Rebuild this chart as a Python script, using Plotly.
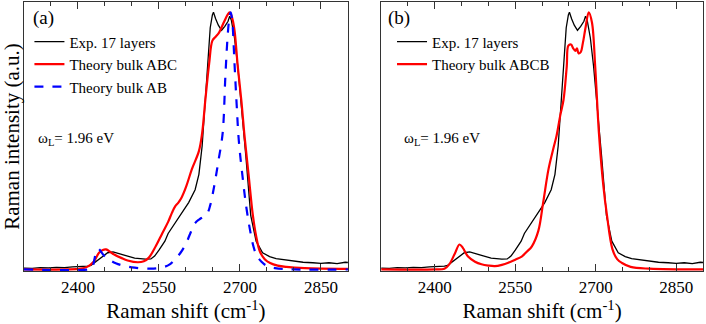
import plotly.graph_objects as go

# ---- data (normalised intensity) ----
exp_x = [2300, 2315, 2330, 2345, 2360, 2375, 2390, 2400, 2410, 2418, 2424, 2430, 2436,
         2445, 2455, 2465, 2475, 2485, 2495, 2505, 2515, 2525, 2535, 2542, 2550, 2561,
         2567, 2575, 2583, 2592, 2605, 2617, 2624, 2630, 2636, 2641, 2645, 2649, 2651,
         2655, 2660, 2666, 2672, 2678, 2681, 2684, 2690, 2696, 2702, 2711, 2720, 2730,
         2742, 2755, 2767, 2786, 2800, 2817, 2835, 2850, 2865, 2880, 2895, 2900]
exp_y = [0.005, 0.004, 0.007, 0.006, 0.008, 0.007, 0.010, 0.011, 0.010, 0.013, 0.016, 0.025,
         0.036, 0.048, 0.065, 0.068, 0.062, 0.055, 0.048, 0.044, 0.042, 0.040, 0.041, 0.052,
         0.075, 0.110, 0.140, 0.165, 0.190, 0.220, 0.260, 0.310, 0.370, 0.480, 0.660, 0.820,
         0.940, 0.990, 1.000, 0.975, 0.950, 0.930, 0.945, 0.965, 0.985, 0.970, 0.900, 0.790,
         0.660, 0.440, 0.210, 0.110, 0.065, 0.050, 0.042, 0.036, 0.032, 0.028, 0.026, 0.024,
         0.026, 0.023, 0.028, 0.027]

abc_x = [2300, 2380, 2405, 2417, 2429, 2439, 2446, 2452, 2460, 2467, 2480, 2492, 2511, 2522,
         2531, 2544, 2556, 2567, 2574, 2580, 2586, 2592, 2600, 2611, 2624, 2630, 2636, 2643,
         2649, 2655, 2661, 2670, 2677, 2681, 2686, 2690, 2696, 2703, 2708, 2716, 2724, 2730,
         2737, 2746, 2756, 2770, 2786, 2820, 2900]
abc_y = [0.0, 0.0, 0.003, 0.010, 0.030, 0.065, 0.076, 0.078, 0.068, 0.058, 0.045, 0.035, 0.028,
         0.032, 0.045, 0.090, 0.140, 0.185, 0.220, 0.245, 0.260, 0.280, 0.320, 0.390, 0.460,
         0.530, 0.660, 0.800, 0.890, 0.905, 0.920, 0.960, 0.990, 1.000, 0.975, 0.930, 0.790,
         0.650, 0.530, 0.370, 0.210, 0.130, 0.070, 0.040, 0.025, 0.015, 0.010, 0.005, 0.002]

ab_x = [2300, 2420, 2426, 2430, 2434, 2438, 2443, 2450, 2460, 2470, 2485, 2505, 2530, 2545,
        2560, 2570, 2580, 2590, 2600, 2608, 2617, 2625, 2632, 2640, 2645, 2652, 2660, 2668,
        2673, 2677, 2680, 2683, 2686, 2690, 2694, 2698, 2706, 2712, 2719, 2725, 2731, 2740,
        2749, 2765, 2800, 2900]
ab_y = [0.0, 0.0, 0.005, 0.035, 0.070, 0.080, 0.068, 0.050, 0.035, 0.024, 0.014, 0.007, 0.003,
        0.004, 0.010, 0.020, 0.040, 0.065, 0.100, 0.140, 0.180, 0.195, 0.205, 0.220, 0.250,
        0.320, 0.420, 0.530, 0.750, 0.900, 0.970, 1.000, 0.960, 0.800, 0.640, 0.500, 0.340,
        0.240, 0.150, 0.090, 0.055, 0.030, 0.015, 0.005, 0.0, 0.0]

abcb_x = [2300, 2400, 2418, 2427, 2437, 2446, 2452, 2462, 2475, 2487, 2500, 2512, 2525, 2537,
          2550, 2562, 2572, 2581, 2593, 2602, 2612, 2621, 2627, 2634, 2640, 2646, 2649, 2654,
          2658, 2662, 2665, 2668, 2672, 2676, 2681, 2687, 2693, 2699, 2706, 2714, 2721, 2731,
          2740, 2749, 2765, 2800, 2900]
abcb_y = [0.0, 0.0, 0.003, 0.020, 0.060, 0.097, 0.085, 0.050, 0.030, 0.020, 0.015, 0.013, 0.018,
          0.026, 0.038, 0.050, 0.070, 0.090, 0.150, 0.260, 0.390, 0.470, 0.520, 0.600, 0.660,
          0.790, 0.870, 0.875, 0.860, 0.850, 0.860, 0.840, 0.845, 0.880, 0.940, 1.000, 0.960,
          0.790, 0.530, 0.330, 0.210, 0.080, 0.040, 0.025, 0.010, 0.003, 0.0]

SERIF = "Liberation Serif, Times New Roman, serif"
FRAME = "#333333"

fig = go.Figure()
fig.add_trace(go.Scatter(x=exp_x, y=exp_y, mode="lines", name="Exp. 17 layers",
                         line=dict(color="black", width=1.3), legend="legend"))
fig.add_trace(go.Scatter(x=abc_x, y=abc_y, mode="lines", name="Theory bulk ABC",
                         line=dict(color="#ff0000", width=2.2, shape="spline"), legend="legend"))
fig.add_trace(go.Scatter(x=ab_x, y=ab_y, mode="lines", name="Theory bulk AB",
                         line=dict(color="#0000ff", width=2.2, dash="dash", shape="spline"),
                         legend="legend"))
fig.add_trace(go.Scatter(x=exp_x, y=exp_y, mode="lines", name="Exp. 17 layers",
                         line=dict(color="black", width=1.3), xaxis="x2", yaxis="y2",
                         legend="legend2"))
fig.add_trace(go.Scatter(x=abcb_x, y=abcb_y, mode="lines", name="Theory bulk ABCB",
                         line=dict(color="#ff0000", width=2.2, shape="spline"),
                         xaxis="x2", yaxis="y2", legend="legend2"))

xax = dict(range=[2300, 2900], tick0=2400, dtick=150, ticks="inside", ticklen=7,
           tickwidth=1.2, tickcolor=FRAME, showline=True, linecolor=FRAME, linewidth=1.3,
           mirror="ticks", showgrid=False, zeroline=False, automargin=False,
           minor=dict(dtick=50, ticks="inside", ticklen=4, tickcolor=FRAME, showgrid=False),
           tickfont=dict(family=SERIF, size=17, color="black"),
           title=dict(text="Raman shift (cm<sup>-1</sup>)", standoff=0,
                      font=dict(family=SERIF, size=21, color="black")))
yax = dict(range=[-0.006, 1.04], showticklabels=False, ticks="", showline=True,
           linecolor=FRAME, linewidth=1.3, mirror=True, showgrid=False, zeroline=False,
           automargin=False)

legend_font = dict(family=SERIF, size=15, color="black")
fig.update_layout(
    width=706, height=324,
    margin=dict(l=24, r=3, t=2, b=53),
    paper_bgcolor="white", plot_bgcolor="white",
    xaxis=dict(xax, domain=[0, 0.477]),
    yaxis=dict(yax, title=dict(text="Raman intensity (a.u.)", standoff=0,
                               font=dict(family=SERIF, size=21, color="black"))),
    xaxis2=dict(xax, domain=[0.526, 1], anchor="y2"),
    yaxis2=dict(yax, anchor="x2"),
    legend=dict(x=0.008, y=0.913, xanchor="left", yanchor="top", bgcolor="rgba(0,0,0,0)",
                font=legend_font, tracegroupgap=0, itemwidth=30),
    legend2=dict(x=0.542, y=0.913, xanchor="left", yanchor="top", bgcolor="rgba(0,0,0,0)",
                 font=legend_font, tracegroupgap=0, itemwidth=30),
    showlegend=True,
)

notes = [("(a)", 0.010, 0.94, 19), ("ω<sub>L</sub>= 1.96 eV", 0.018, 0.49, 15),
         ("(b)", 0.533, 0.94, 19), ("ω<sub>L</sub>= 1.96 eV", 0.556, 0.49, 15)]
for txt, ax, ay, fs in notes:
    fig.add_annotation(text=txt, x=ax, y=ay, xref="paper", yref="paper", xanchor="left",
                       yanchor="middle", showarrow=False,
                       font=dict(family=SERIF, size=fs, color="black"))

# the page body has a default 8px margin; drop it so the figure fills the window
fig.write_html("out.html", config={"displayModeBar": False},
               post_script="document.body.style.margin='0';")
